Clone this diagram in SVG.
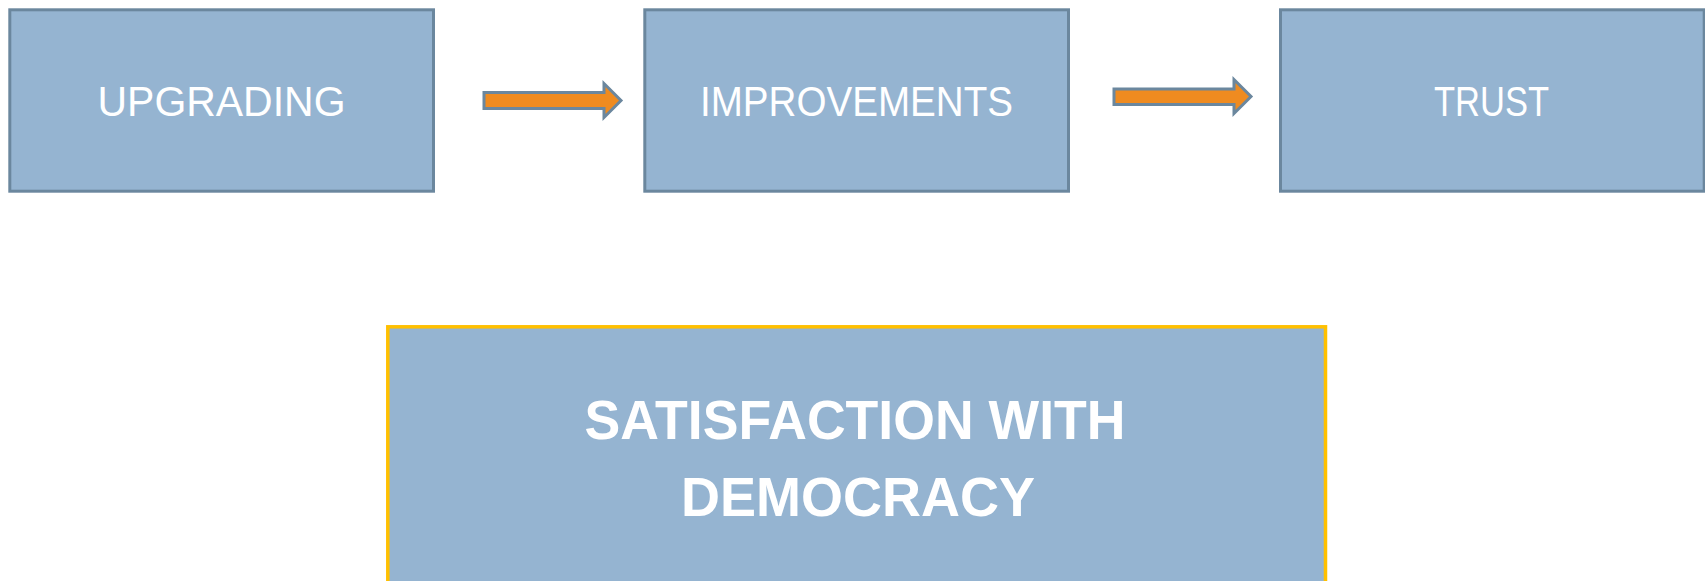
<svg xmlns="http://www.w3.org/2000/svg" width="1705" height="581" viewBox="0 0 1705 581">
  <style>
    .box { fill: #95b4d1; stroke: #6b879e; stroke-width: 3; }
    .big { fill: #95b4d1; stroke: #ffc000; stroke-width: 3.5; }
    .lbl { font-family: "Liberation Sans", Arial, sans-serif; font-size: 43px; fill: #ffffff; text-anchor: middle; }
    .bold { font-family: "Liberation Sans", Arial, sans-serif; font-size: 56px; font-weight: bold; fill: #ffffff; text-anchor: middle; }
    .arrow { fill: #ef8b20; stroke: #6b879e; stroke-width: 3; stroke-linejoin: miter; }
  </style>
  <rect width="1705" height="581" fill="#ffffff"/>
  <g id="upgrading">
    <rect class="box" x="9.8" y="9.8" width="423.7" height="181.4"/>
    <text class="lbl" x="221.5" y="116" textLength="248" lengthAdjust="spacingAndGlyphs">UPGRADING</text>
  </g>
  <g id="improvements">
    <rect class="box" x="644.8" y="9.8" width="423.7" height="181.4"/>
    <text class="lbl" x="856.5" y="116" textLength="313" lengthAdjust="spacingAndGlyphs">IMPROVEMENTS</text>
  </g>
  <g id="trust">
    <rect class="box" x="1280.5" y="9.8" width="423.7" height="181.4"/>
    <text class="lbl" x="1491.5" y="116" textLength="115" lengthAdjust="spacingAndGlyphs">TRUST</text>
  </g>
  <g id="satisfaction">
    <rect class="big" x="387.8" y="326.8" width="937.7" height="300"/>
    <text class="bold" x="855" y="439.3" textLength="541" lengthAdjust="spacingAndGlyphs">SATISFACTION WITH</text>
    <text class="bold" x="858" y="515.5" textLength="354" lengthAdjust="spacingAndGlyphs">DEMOCRACY</text>
  </g>
  <g id="connectors">
    <polygon class="arrow" points="484,92.5 604,92.5 604,83.5 621,100.5 604,117.5 604,108.5 484,108.5"/>
    <polygon class="arrow" points="1114,89 1234,89 1234,79.5 1251,96.5 1234,113.5 1234,104.5 1114,104.5"/>
  </g>
</svg>
